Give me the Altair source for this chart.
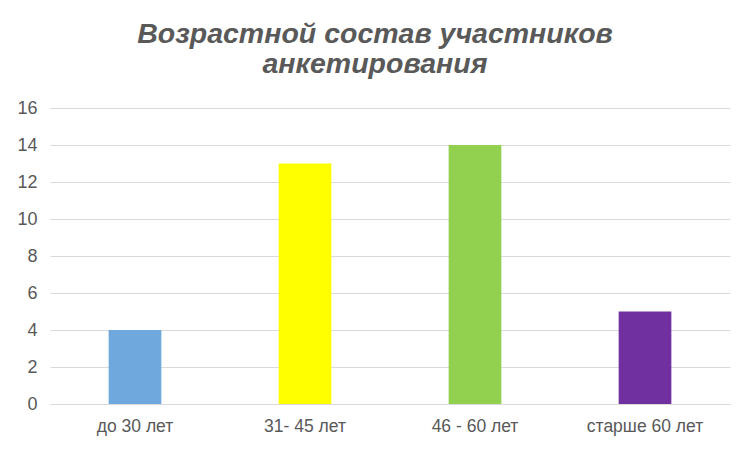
import altair as alt
import pandas as pd

categories = ["до 30 лет", "31- 45 лет", "46 - 60 лет", "старше 60 лет"]
values = [4, 13, 14, 5]
colors = ["#6FA8DC", "#FFFF00", "#92D050", "#7030A0"]

df = pd.DataFrame({"cat": categories, "val": values, "color": colors})

chart = alt.Chart(df).mark_bar().encode(
    x=alt.X("cat:N", sort=categories, title=None,
            scale=alt.Scale(paddingInner=0.69, paddingOuter=0.345),
            axis=alt.Axis(labelAngle=0, labelFontSize=17.5, labelColor="#595959",
                          labelFont="Liberation Sans", ticks=False, labelPadding=13,
                          domainColor="#D9D9D9", domainWidth=1)),
    y=alt.Y("val:Q", title=None,
            scale=alt.Scale(domain=[0, 16], nice=False),
            axis=alt.Axis(values=[0, 2, 4, 6, 8, 10, 12, 14, 16], labelFontSize=18,
                          labelColor="#595959", labelFont="Liberation Sans",
                          ticks=False, domain=False, labelPadding=13,
                          gridColor="#D9D9D9", gridWidth=1)),
    color=alt.Color("color:N", scale=None, legend=None),
).properties(
    width=680,
    height=296,
    autosize=alt.AutoSizeParams(type="none"),
    padding={"left": 42, "top": 100, "right": 14, "bottom": 38},
    title=alt.TitleParams(
        text=["Возрастной состав участников", "анкетирования"],
        font="Liberation Sans", fontSize=28.5, fontStyle="italic", fontWeight="bold",
        color="#595959", anchor="middle", dx=-15, lineHeight=30, offset=21,
    ),
).configure_view(stroke=None)

chart.save("out.html", embed_options={"renderer": "svg", "actions": False})
